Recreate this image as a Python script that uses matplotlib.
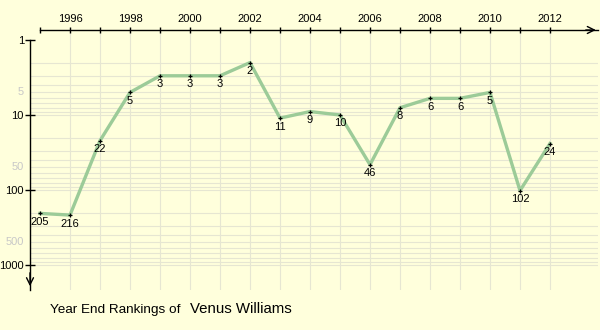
import matplotlib
matplotlib.use("Agg")
import matplotlib.pyplot as plt
from matplotlib.ticker import FixedLocator, NullFormatter

years = [1995, 1996, 1997, 1998, 1999, 2000, 2001, 2002, 2003, 2004,
         2005, 2006, 2007, 2008, 2009, 2010, 2011, 2012]
rankings = [205, 216, 22, 5, 3, 3, 3, 2, 11, 9, 10, 46, 8, 6, 6, 5, 102, 24]
year_labels = [1996, 1998, 2000, 2002, 2004, 2006, 2008, 2010, 2012]
major_ranks = [1, 10, 100, 1000]
faint_ranks = [5, 50, 500]
player = "Venus Williams"

plt.rcParams["font.family"] = ["Liberation Sans", "DejaVu Sans"]

BG = "#ffffdc"
NUM = 8
W, H = 600, 330
fig = plt.figure(figsize=(W / 100, H / 100), dpi=100, facecolor=BG)

# axes box in pixel terms: x 30..598, y 30..290 (from top)
ax = fig.add_axes([30 / W, (H - 290) / H, 568 / W, 260 / H])
ax.set_facecolor(BG)
ax.set_yscale("log")
x0 = 1995 - 10 / 30
x1 = 1995 + 558 / 30
ax.set_xlim(x0, x1)
ylo = 10 ** (-10 / 75)
yhi = 10 ** (250 / 75)
ax.set_ylim(yhi, ylo)

# grid
grid_ranks = [m * 10 ** e for e in range(0, 4) for m in range(1, 10) if m * 10 ** e <= 1000]
for r in grid_ranks[1:]:
    ax.axhline(r, color="#e6e6d2", lw=0.8, zorder=0)
for yr in range(1996, 2013):
    ax.axvline(yr, color="#e6e6d2", lw=0.8, zorder=0)

for s in ["right", "bottom"]:
    ax.spines[s].set_visible(False)
ax.spines["top"].set_bounds(1995, x1)
ax.spines["left"].set_bounds(1, yhi)
ax.spines["top"].set_linewidth(1.0)
ax.spines["left"].set_linewidth(1.0)

# x ticks on top
ax.xaxis.tick_top()
ax.set_xticks(years)
ax.set_xticklabels([str(y) if y in year_labels else "" for y in years])
ax.tick_params(axis="x", direction="inout", length=4.3, width=1, pad=2,
               labelsize=NUM, colors="black")

# y ticks
ax.yaxis.set_major_locator(FixedLocator(major_ranks))
ax.set_yticklabels([str(r) for r in major_ranks])
ax.yaxis.set_minor_locator(FixedLocator([]))
ax.yaxis.set_minor_formatter(NullFormatter())
ax.tick_params(axis="y", which="major", direction="inout", length=7.2, width=1,
               pad=0.8, labelsize=NUM)
for r in faint_ranks:
    ax.text(x0 - 0.2, r, str(r), ha="right", va="center", fontsize=NUM,
            color="#c8c8c8", clip_on=False)

# arrowheads
ax.annotate("", xy=(x1 + 0.02, ylo), xytext=(x1 - 0.5, ylo),
            arrowprops=dict(arrowstyle="->,head_length=0.5,head_width=0.25",
                            color="black", lw=1), annotation_clip=False)
ax.annotate("", xy=(x0, 10 ** (249 / 75)), xytext=(x0, 10 ** (230 / 75)),
            arrowprops=dict(arrowstyle="->,head_length=0.5,head_width=0.25",
                            color="black", lw=1), annotation_clip=False)

# ranking line
ax.plot(years, rankings, color="#9ccb98", lw=2.4, zorder=3, solid_joinstyle="round")
ax.plot(years, rankings, ls="none", marker="+", ms=3.5, mew=0.9, color="black", zorder=4)
for yr, r in zip(years, rankings):
    ax.annotate(str(r), (yr, r), xytext=(0, -2.5), textcoords="offset points",
                ha="center", va="top", fontsize=NUM, color="black", zorder=5)

fig.text(50 / W, 1 - 310 / H, "Year End Rankings of", fontsize=9.7,
         ha="left", va="center")
fig.text(190 / W, 1 - 309 / H, player, fontsize=10.8,
         ha="left", va="center")

fig.savefig("out.png", dpi=100, facecolor=BG)
